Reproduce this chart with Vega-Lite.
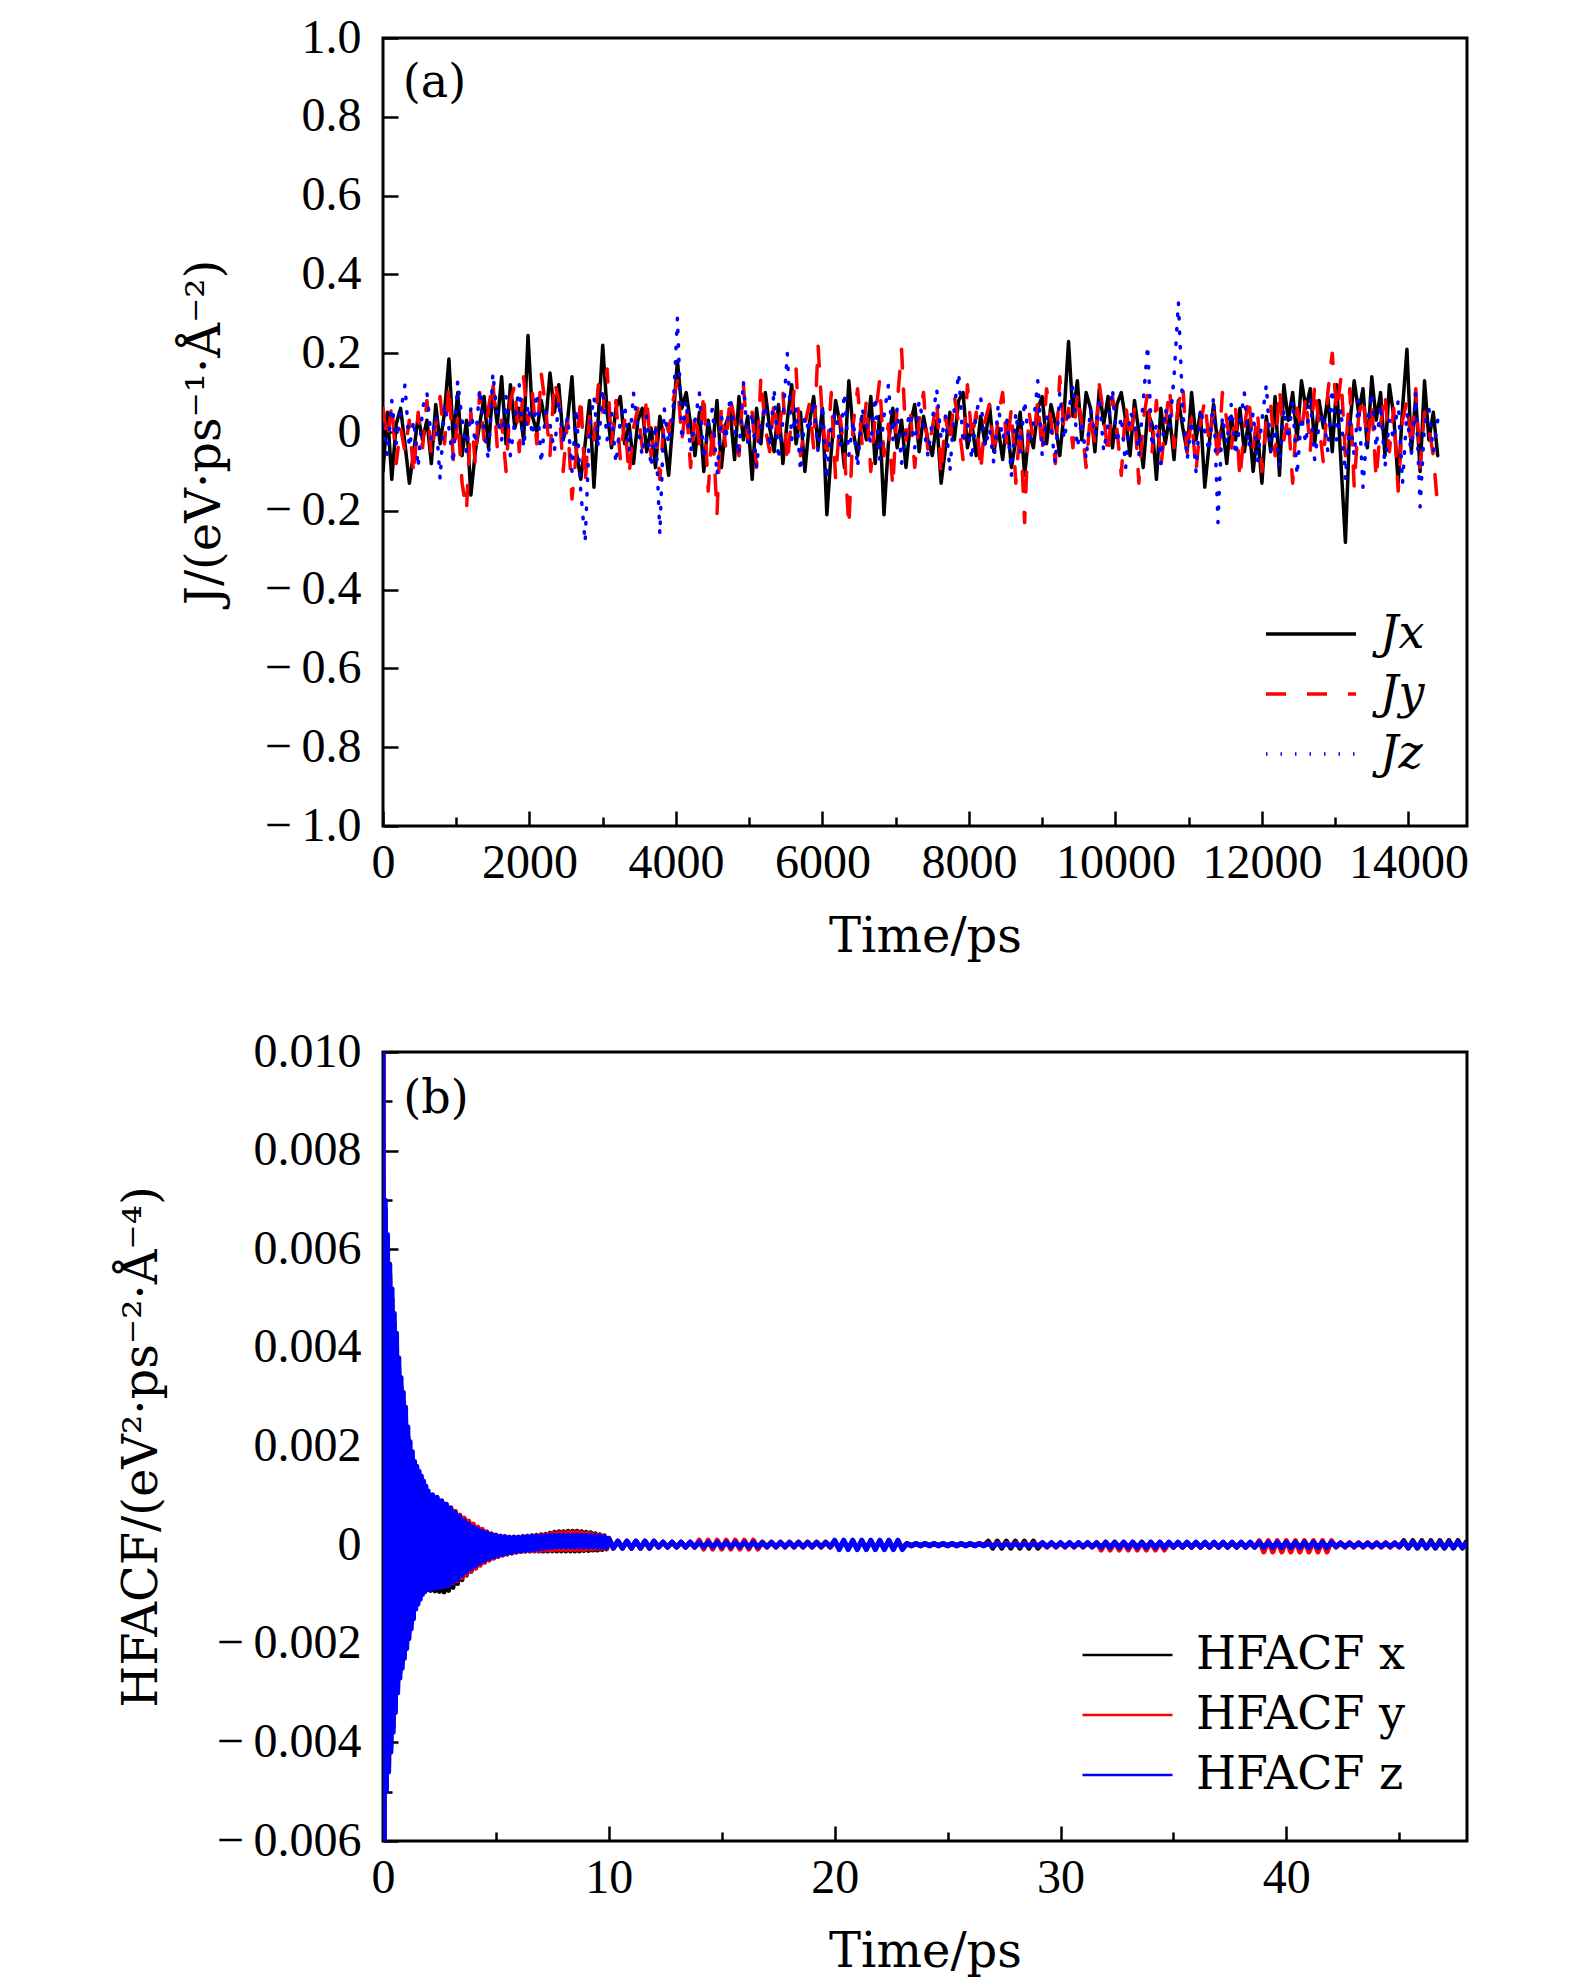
{
  "$schema": "https://vega.github.io/schema/vega-lite/v6.json",
  "background": "white",
  "padding": {"left": 116, "top": 12, "right": 5, "bottom": 5},
  "bounds": "flush",
  "spacing": 226,
  "datasets": {
    "flux": [
      {"t":0,"x":-0.10,"y":0.06,"z":0.02},{"t":60,"x":0.05,"y":-0.02,"z":-0.06},{"t":120,"x":-0.12,"y":0.07,"z":0.08},{"t":180,"x":0.02,"y":-0.08,"z":-0.03},{"t":240,"x":0.06,"y":0.01,"z":0.05},
      {"t":300,"x":-0.03,"y":-0.05,"z":0.12},{"t":360,"x":-0.13,"y":0.03,"z":-0.04},{"t":420,"x":-0.05,"y":-0.11,"z":0.03},{"t":480,"x":0.04,"y":0.05,"z":-0.09},{"t":540,"x":-0.02,"y":-0.04,"z":0.06},
      {"t":600,"x":0.03,"y":0.08,"z":0.10},{"t":660,"x":-0.08,"y":-0.06,"z":-0.02},{"t":720,"x":0.07,"y":0.02,"z":0.04},{"t":780,"x":-0.03,"y":0.09,"z":-0.12},{"t":840,"x":0.05,"y":-0.03,"z":0.07},
      {"t":900,"x":0.185,"y":0.12,"z":0.01},{"t":960,"x":-0.02,"y":-0.07,"z":-0.08},{"t":1020,"x":0.10,"y":0.04,"z":0.13},{"t":1080,"x":-0.06,"y":-0.13,"z":0.03},{"t":1140,"x":0.03,"y":-0.20,"z":-0.05},
      {"t":1200,"x":-0.16,"y":0.05,"z":0.06},{"t":1260,"x":-0.05,"y":-0.08,"z":-0.03},{"t":1320,"x":0.02,"y":0.10,"z":0.11},{"t":1380,"x":0.09,"y":-0.02,"z":0.00},{"t":1440,"x":-0.04,"y":0.06,"z":-0.07},
      {"t":1500,"x":0.11,"y":0.13,"z":0.15},{"t":1560,"x":0.02,"y":-0.04,"z":0.04},{"t":1620,"x":0.14,"y":0.03,"z":-0.02},{"t":1680,"x":-0.03,"y":-0.10,"z":0.09},{"t":1740,"x":0.12,"y":0.08,"z":-0.06},
      {"t":1800,"x":0.01,"y":0.12,"z":0.03},{"t":1860,"x":0.06,"y":-0.05,"z":0.12},{"t":1920,"x":-0.02,"y":0.14,"z":-0.04},{"t":1980,"x":0.245,"y":0.02,"z":0.07},{"t":2040,"x":0.04,"y":0.10,"z":-0.01},
      {"t":2100,"x":0.00,"y":-0.03,"z":0.10},{"t":2160,"x":0.08,"y":0.15,"z":-0.08},{"t":2220,"x":0.02,"y":0.06,"z":0.05},{"t":2280,"x":0.15,"y":-0.06,"z":0.02},{"t":2340,"x":0.05,"y":0.13,"z":-0.05},
      {"t":2400,"x":0.12,"y":0.08,"z":0.08},{"t":2460,"x":-0.02,"y":-0.10,"z":-0.03},{"t":2520,"x":0.03,"y":0.03,"z":0.04},{"t":2580,"x":0.14,"y":-0.17,"z":-0.10},{"t":2640,"x":-0.05,"y":-0.05,"z":0.06},
      {"t":2700,"x":-0.12,"y":0.09,"z":-0.15},{"t":2760,"x":-0.03,"y":-0.13,"z":-0.28},{"t":2820,"x":0.08,"y":0.04,"z":0.01},{"t":2880,"x":-0.14,"y":-0.02,"z":0.09},{"t":2940,"x":0.04,"y":0.12,"z":-0.04},
      {"t":3000,"x":0.22,"y":0.05,"z":0.11},{"t":3060,"x":0.05,"y":0.16,"z":-0.02},{"t":3120,"x":-0.04,"y":-0.03,"z":0.05},{"t":3180,"x":0.06,"y":0.08,"z":-0.08},{"t":3240,"x":0.09,"y":-0.07,"z":0.03},
      {"t":3300,"x":-0.03,"y":0.03,"z":0.07},{"t":3360,"x":0.02,"y":-0.11,"z":-0.05},{"t":3420,"x":-0.08,"y":0.01,"z":0.10},{"t":3480,"x":0.03,"y":0.06,"z":0.01},{"t":3540,"x":0.06,"y":-0.04,"z":-0.06},
      {"t":3600,"x":-0.05,"y":0.09,"z":0.04},{"t":3660,"x":0.01,"y":-0.06,"z":-0.09},{"t":3720,"x":-0.09,"y":0.02,"z":0.02},{"t":3780,"x":0.04,"y":-0.12,"z":-0.26},{"t":3840,"x":-0.02,"y":0.04,"z":0.06},
      {"t":3900,"x":-0.11,"y":0.00,"z":-0.03},{"t":3960,"x":0.03,"y":0.08,"z":0.05},{"t":4020,"x":0.18,"y":0.13,"z":0.29},{"t":4080,"x":0.06,"y":-0.02,"z":-0.02},{"t":4140,"x":0.10,"y":0.07,"z":0.08},
      {"t":4200,"x":0.02,"y":-0.09,"z":-0.05},{"t":4260,"x":-0.06,"y":0.05,"z":0.03},{"t":4320,"x":0.05,"y":-0.03,"z":0.10},{"t":4380,"x":-0.10,"y":0.10,"z":-0.07},{"t":4440,"x":0.03,"y":-0.15,"z":0.02},
      {"t":4500,"x":-0.04,"y":0.02,"z":0.06},{"t":4560,"x":0.08,"y":-0.21,"z":-0.11},{"t":4620,"x":-0.09,"y":0.06,"z":0.04},{"t":4680,"x":0.02,"y":-0.04,"z":-0.02},{"t":4740,"x":0.05,"y":0.09,"z":0.09},
      {"t":4800,"x":-0.07,"y":0.03,"z":0.01},{"t":4860,"x":0.09,"y":-0.06,"z":-0.06},{"t":4920,"x":-0.02,"y":0.12,"z":0.13},{"t":4980,"x":0.04,"y":-0.02,"z":-0.03},{"t":5040,"x":-0.12,"y":0.05,"z":0.05},
      {"t":5100,"x":0.06,"y":-0.09,"z":-0.09},{"t":5160,"x":-0.03,"y":0.14,"z":0.02},{"t":5220,"x":0.10,"y":0.01,"z":0.07},{"t":5280,"x":0.01,"y":-0.05,"z":-0.04},{"t":5340,"x":-0.05,"y":0.08,"z":0.11},
      {"t":5400,"x":0.07,"y":-0.03,"z":-0.07},{"t":5460,"x":-0.08,"y":0.10,"z":0.03},{"t":5520,"x":0.03,"y":-0.08,"z":0.20},{"t":5580,"x":0.12,"y":0.04,"z":-0.02},{"t":5640,"x":-0.03,"y":0.16,"z":0.06},
      {"t":5700,"x":0.05,"y":-0.06,"z":-0.10},{"t":5760,"x":-0.10,"y":0.02,"z":0.04},{"t":5820,"x":0.02,"y":0.07,"z":0.00},{"t":5880,"x":0.09,"y":-0.04,"z":0.08},{"t":5940,"x":-0.04,"y":0.22,"z":-0.05},
      {"t":6000,"x":0.06,"y":0.03,"z":0.07},{"t":6060,"x":-0.21,"y":-0.07,"z":-0.12},{"t":6120,"x":-0.05,"y":0.10,"z":0.02},{"t":6180,"x":0.08,"y":-0.12,"z":0.05},{"t":6240,"x":0.02,"y":0.04,"z":-0.04},
      {"t":6300,"x":-0.09,"y":-0.05,"z":0.10},{"t":6360,"x":0.13,"y":-0.24,"z":-0.06},{"t":6420,"x":0.00,"y":0.02,"z":0.03},{"t":6480,"x":-0.06,"y":0.11,"z":-0.09},{"t":6540,"x":0.04,"y":-0.03,"z":0.06},
      {"t":6600,"x":-0.02,"y":0.08,"z":0.02},{"t":6660,"x":0.09,"y":-0.10,"z":-0.03},{"t":6720,"x":-0.08,"y":0.04,"z":0.09},{"t":6780,"x":0.04,"y":0.13,"z":-0.07},{"t":6840,"x":-0.21,"y":-0.06,"z":0.04},
      {"t":6900,"x":-0.03,"y":0.02,"z":0.12},{"t":6960,"x":0.06,"y":-0.14,"z":-0.02},{"t":7020,"x":-0.04,"y":0.07,"z":0.06},{"t":7080,"x":0.03,"y":0.21,"z":-0.08},{"t":7140,"x":-0.09,"y":-0.02,"z":0.01},
      {"t":7200,"x":0.02,"y":0.05,"z":0.05},{"t":7260,"x":0.07,"y":-0.09,"z":-0.04},{"t":7320,"x":-0.05,"y":0.03,"z":0.08},{"t":7380,"x":0.04,"y":0.10,"z":0.02},{"t":7440,"x":-0.02,"y":-0.05,"z":-0.06},
      {"t":7500,"x":-0.06,"y":0.01,"z":0.03},{"t":7560,"x":0.03,"y":0.08,"z":0.11},{"t":7620,"x":-0.13,"y":-0.11,"z":-0.02},{"t":7680,"x":-0.04,"y":0.04,"z":0.04},{"t":7740,"x":0.05,"y":-0.03,"z":-0.10},
      {"t":7800,"x":-0.02,"y":0.09,"z":0.06},{"t":7860,"x":0.08,"y":0.02,"z":0.15},{"t":7920,"x":0.10,"y":-0.07,"z":-0.03},{"t":7980,"x":-0.04,"y":0.12,"z":0.02},{"t":8040,"x":0.02,"y":-0.02,"z":-0.07},
      {"t":8100,"x":-0.06,"y":0.05,"z":0.05},{"t":8160,"x":0.04,"y":-0.10,"z":0.09},{"t":8220,"x":-0.03,"y":0.03,"z":-0.04},{"t":8280,"x":0.07,"y":0.07,"z":0.01},{"t":8340,"x":-0.05,"y":-0.06,"z":-0.08},
      {"t":8400,"x":0.01,"y":0.04,"z":0.07},{"t":8460,"x":-0.07,"y":0.10,"z":-0.02},{"t":8520,"x":0.03,"y":-0.04,"z":0.03},{"t":8580,"x":-0.09,"y":0.06,"z":-0.11},{"t":8640,"x":-0.02,"y":-0.13,"z":0.05},
      {"t":8700,"x":0.05,"y":0.02,"z":-0.05},{"t":8760,"x":-0.11,"y":-0.23,"z":0.08},{"t":8820,"x":0.00,"y":0.05,"z":-0.03},{"t":8880,"x":-0.04,"y":-0.02,"z":0.02},{"t":8940,"x":0.06,"y":0.08,"z":0.13},
      {"t":9000,"x":0.09,"y":-0.05,"z":-0.06},{"t":9060,"x":-0.03,"y":0.11,"z":0.04},{"t":9120,"x":0.07,"y":0.03,"z":0.01},{"t":9180,"x":0.02,"y":-0.08,"z":-0.08},{"t":9240,"x":-0.06,"y":0.14,"z":0.10},
      {"t":9300,"x":0.05,"y":0.00,"z":-0.02},{"t":9360,"x":0.23,"y":0.06,"z":0.05},{"t":9420,"x":0.04,"y":-0.04,"z":0.12},{"t":9480,"x":0.13,"y":0.10,"z":-0.04},{"t":9540,"x":-0.02,"y":0.02,"z":0.03},
      {"t":9600,"x":0.10,"y":-0.09,"z":-0.07},{"t":9660,"x":0.06,"y":0.05,"z":0.06},{"t":9720,"x":-0.05,"y":-0.03,"z":-0.01},{"t":9780,"x":0.11,"y":0.12,"z":0.09},{"t":9840,"x":0.02,"y":0.04,"z":-0.05},
      {"t":9900,"x":0.09,"y":-0.06,"z":0.02},{"t":9960,"x":-0.04,"y":0.09,"z":0.11},{"t":10020,"x":0.07,"y":0.01,"z":-0.03},{"t":10080,"x":0.10,"y":-0.11,"z":0.04},{"t":10140,"x":0.03,"y":0.07,"z":-0.09},
      {"t":10200,"x":-0.06,"y":-0.02,"z":0.05},{"t":10260,"x":0.08,"y":0.06,"z":0.03},{"t":10320,"x":0.00,"y":-0.13,"z":-0.06},{"t":10380,"x":-0.09,"y":0.03,"z":0.08},{"t":10440,"x":0.05,"y":0.10,"z":0.22},
      {"t":10500,"x":0.02,"y":-0.05,"z":-0.04},{"t":10560,"x":-0.12,"y":0.08,"z":0.02},{"t":10620,"x":0.06,"y":-0.09,"z":-0.08},{"t":10680,"x":-0.03,"y":0.02,"z":0.06},{"t":10740,"x":0.04,"y":0.11,"z":0.01},
      {"t":10800,"x":-0.07,"y":-0.04,"z":0.14},{"t":10860,"x":0.08,"y":0.07,"z":0.33},{"t":10920,"x":0.01,"y":0.12,"z":0.05},{"t":10980,"x":-0.05,"y":-0.06,"z":-0.07},{"t":11040,"x":0.10,"y":0.04,"z":0.03},
      {"t":11100,"x":-0.02,"y":-0.10,"z":-0.10},{"t":11160,"x":0.05,"y":0.02,"z":0.06},{"t":11220,"x":-0.14,"y":0.08,"z":0.00},{"t":11280,"x":-0.03,"y":-0.03,"z":-0.05},{"t":11340,"x":0.07,"y":0.05,"z":0.09},
      {"t":11400,"x":-0.04,"y":-0.08,"z":-0.23},{"t":11460,"x":0.02,"y":0.10,"z":0.04},{"t":11520,"x":-0.08,"y":0.03,"z":-0.03},{"t":11580,"x":0.04,"y":-0.05,"z":0.07},{"t":11640,"x":-0.02,"y":0.06,"z":-0.06},
      {"t":11700,"x":0.06,"y":-0.12,"z":0.02},{"t":11760,"x":-0.05,"y":0.01,"z":0.10},{"t":11820,"x":0.03,"y":0.09,"z":-0.04},{"t":11880,"x":-0.10,"y":-0.04,"z":0.05},{"t":11940,"x":0.00,"y":0.05,"z":-0.08},
      {"t":12000,"x":-0.13,"y":-0.10,"z":0.03},{"t":12060,"x":0.04,"y":0.03,"z":0.12},{"t":12120,"x":-0.05,"y":0.07,"z":-0.05},{"t":12180,"x":0.09,"y":-0.06,"z":0.01},{"t":12240,"x":-0.11,"y":0.11,"z":-0.09},
      {"t":12300,"x":0.12,"y":-0.02,"z":0.06},{"t":12360,"x":0.03,"y":0.04,"z":-0.02},{"t":12420,"x":0.10,"y":-0.13,"z":0.08},{"t":12480,"x":-0.02,"y":0.06,"z":-0.11},{"t":12540,"x":0.13,"y":0.00,"z":0.04},
      {"t":12600,"x":0.06,"y":0.09,"z":-0.03},{"t":12660,"x":0.11,"y":-0.05,"z":0.09},{"t":12720,"x":-0.03,"y":0.12,"z":-0.07},{"t":12780,"x":0.08,"y":0.02,"z":0.02},{"t":12840,"x":0.01,"y":-0.08,"z":0.05},
      {"t":12900,"x":0.09,"y":0.10,"z":-0.05},{"t":12960,"x":-0.05,"y":0.20,"z":0.11},{"t":13020,"x":0.12,"y":0.05,"z":-0.02},{"t":13080,"x":-0.08,"y":0.14,"z":0.06},{"t":13140,"x":-0.28,"y":-0.06,"z":-0.12},
      {"t":13200,"x":0.02,"y":0.11,"z":0.04},{"t":13260,"x":0.13,"y":-0.14,"z":-0.06},{"t":13320,"x":0.05,"y":0.04,"z":0.08},{"t":13380,"x":0.11,"y":0.09,"z":-0.14},{"t":13440,"x":-0.04,"y":-0.03,"z":0.02},
      {"t":13500,"x":0.14,"y":0.07,"z":0.10},{"t":13560,"x":0.03,"y":-0.12,"z":-0.04},{"t":13620,"x":0.10,"y":0.02,"z":0.07},{"t":13680,"x":-0.06,"y":0.10,"z":-0.09},{"t":13740,"x":0.12,"y":-0.05,"z":0.03},
      {"t":13800,"x":0.04,"y":0.06,"z":-0.02},{"t":13860,"x":-0.13,"y":-0.15,"z":0.08},{"t":13920,"x":0.06,"y":0.03,"z":-0.13},{"t":13980,"x":0.21,"y":0.08,"z":0.05},{"t":14040,"x":-0.05,"y":-0.04,"z":-0.06},
      {"t":14100,"x":0.09,"y":0.11,"z":0.10},{"t":14160,"x":-0.10,"y":-0.09,"z":-0.19},{"t":14220,"x":0.13,"y":0.05,"z":0.02},{"t":14280,"x":-0.02,"y":0.01,"z":0.06},{"t":14340,"x":0.05,"y":-0.06,"z":-0.05},
      {"t":14400,"x":-0.06,"y":-0.19,"z":0.03}
    ],
    "acf": [
      {"t":0.00,"x":0.0102,"y":0.0100,"z":0.0105},{"t":0.05,"x":-0.0063,"y":-0.0062,"z":-0.0065},{"t":0.10,"x":0.0068,"y":0.0067,"z":0.0070},{"t":0.15,"x":-0.0049,"y":-0.0048,"z":-0.0050},
      {"t":0.20,"x":0.0061,"y":0.0060,"z":0.0063},{"t":0.25,"x":-0.0045,"y":-0.0044,"z":-0.0046},{"t":0.30,"x":0.0055,"y":0.0054,"z":0.0057},{"t":0.35,"x":-0.0041,"y":-0.0040,"z":-0.0042},
      {"t":0.40,"x":0.0050,"y":0.0049,"z":0.0052},{"t":0.45,"x":-0.0037,"y":-0.0036,"z":-0.0038},{"t":0.50,"x":0.0045,"y":0.0044,"z":0.0047},{"t":0.55,"x":-0.0033,"y":-0.0032,"z":-0.0034},
      {"t":0.60,"x":0.0041,"y":0.0040,"z":0.0043},{"t":0.65,"x":-0.0029,"y":-0.0028,"z":-0.0030},{"t":0.70,"x":0.0036,"y":0.0035,"z":0.0038},{"t":0.75,"x":-0.0026,"y":-0.0025,"z":-0.0027},
      {"t":0.80,"x":0.0032,"y":0.0031,"z":0.0034},{"t":0.85,"x":-0.0024,"y":-0.0023,"z":-0.0025},{"t":0.90,"x":0.0029,"y":0.0028,"z":0.0031},{"t":0.95,"x":-0.0022,"y":-0.0021,"z":-0.0023},
      {"t":1.00,"x":0.0026,"y":0.0025,"z":0.0028},{"t":1.05,"x":-0.0020,"y":-0.0019,"z":-0.0021},{"t":1.10,"x":0.0022,"y":0.0022,"z":0.0024},{"t":1.15,"x":-0.0018,"y":-0.0017,"z":-0.0019},
      {"t":1.20,"x":0.0019,"y":0.0019,"z":0.0021},{"t":1.25,"x":-0.0016,"y":-0.0015,"z":-0.0017},{"t":1.30,"x":0.0017,"y":0.0017,"z":0.0019},{"t":1.35,"x":-0.0014,"y":-0.0013,"z":-0.0015},
      {"t":1.40,"x":0.0015,"y":0.0015,"z":0.0017},{"t":1.45,"x":-0.0012,"y":-0.0012,"z":-0.0013},{"t":1.50,"x":0.0014,"y":0.0014,"z":0.0016},{"t":1.55,"x":-0.0011,"y":-0.0011,"z":-0.0012},
      {"t":1.60,"x":0.0013,"y":0.0013,"z":0.0015},{"t":1.65,"x":-0.0010,"y":-0.0010,"z":-0.0011},{"t":1.70,"x":0.0012,"y":0.0012,"z":0.0014},{"t":1.75,"x":-0.00095,"y":-0.00093,"z":-0.0010},
      {"t":1.80,"x":0.0011,"y":0.0011,"z":0.0013},{"t":1.85,"x":-0.00092,"y":-0.0009,"z":-0.00095},{"t":1.90,"x":0.00105,"y":0.00105,"z":0.0012},{"t":1.95,"x":-0.0009,"y":-0.00088,"z":-0.0009},
      {"t":2.0,"x":0.001,"y":0.001,"z":0.0011},{"t":2.1,"x":-0.00092,"y":-0.00088,"z":-0.0009},{"t":2.2,"x":0.00098,"y":0.00097,"z":0.00102},{"t":2.3,"x":-0.00093,"y":-0.00086,"z":-0.00088},
      {"t":2.4,"x":0.00094,"y":0.00093,"z":0.00097},{"t":2.5,"x":-0.00094,"y":-0.00085,"z":-0.00086},{"t":2.6,"x":0.00089,"y":0.00088,"z":0.0009},{"t":2.7,"x":-0.00095,"y":-0.00084,"z":-0.00084},
      {"t":2.8,"x":0.00083,"y":0.00082,"z":0.00083},{"t":2.9,"x":-0.00092,"y":-0.00082,"z":-0.00082},{"t":3.0,"x":0.00076,"y":0.00075,"z":0.00075},{"t":3.1,"x":-0.00086,"y":-0.00077,"z":-0.00076},
      {"t":3.2,"x":0.00068,"y":0.00068,"z":0.00066},{"t":3.3,"x":-0.00078,"y":-0.00072,"z":-0.0007},{"t":3.4,"x":0.0006,"y":0.00061,"z":0.00058},{"t":3.5,"x":-0.0007,"y":-0.00066,"z":-0.00062},
      {"t":3.6,"x":0.00052,"y":0.00055,"z":0.0005},{"t":3.7,"x":-0.00061,"y":-0.0006,"z":-0.00055},{"t":3.8,"x":0.00045,"y":0.00049,"z":0.00043},{"t":3.9,"x":-0.00053,"y":-0.00053,"z":-0.00048},
      {"t":4.0,"x":0.00039,"y":0.00043,"z":0.00037},{"t":4.1,"x":-0.00046,"y":-0.00047,"z":-0.00042},{"t":4.2,"x":0.00033,"y":0.00037,"z":0.00032},{"t":4.3,"x":-0.0004,"y":-0.00041,"z":-0.00036},
      {"t":4.4,"x":0.00029,"y":0.00032,"z":0.00028},{"t":4.5,"x":-0.00034,"y":-0.00035,"z":-0.00031},{"t":4.6,"x":0.00025,"y":0.00027,"z":0.00025},{"t":4.7,"x":-0.0003,"y":-0.0003,"z":-0.00027},
      {"t":4.8,"x":0.00022,"y":0.00023,"z":0.00022},{"t":4.9,"x":-0.00026,"y":-0.00026,"z":-0.00024},{"t":5.0,"x":0.0002,"y":0.0002,"z":0.0002},{"t":5.1,"x":-0.00023,"y":-0.00023,"z":-0.00021},
      {"t":5.2,"x":0.00018,"y":0.00018,"z":0.00018},{"t":5.3,"x":-0.0002,"y":-0.0002,"z":-0.00019},{"t":5.4,"x":0.00017,"y":0.00017,"z":0.00017},{"t":5.5,"x":-0.00018,"y":-0.00018,"z":-0.00017},
      {"t":5.6,"x":0.00016,"y":0.00016,"z":0.00016},{"t":5.7,"x":-0.00016,"y":-0.00016,"z":-0.00015},{"t":5.8,"x":0.00016,"y":0.00016,"z":0.00016},{"t":5.9,"x":-0.00014,"y":-0.00014,"z":-0.00013},
      {"t":6.0,"x":0.00016,"y":0.00016,"z":0.00016},{"t":6.1,"x":-0.00013,"y":-0.00013,"z":-0.00012},{"t":6.2,"x":0.00017,"y":0.00017,"z":0.00017},{"t":6.3,"x":-0.00012,"y":-0.00012,"z":-0.00011},
      {"t":6.4,"x":0.00018,"y":0.00018,"z":0.00017},{"t":6.5,"x":-0.00012,"y":-0.00011,"z":-0.0001},{"t":6.6,"x":0.00019,"y":0.00018,"z":0.00018},{"t":6.7,"x":-0.00012,"y":-0.00011,"z":-0.00009},
      {"t":6.8,"x":0.0002,"y":0.00019,"z":0.00018},{"t":6.9,"x":-0.00012,"y":-0.00011,"z":-0.00008},{"t":7.0,"x":0.00021,"y":0.0002,"z":0.00018},{"t":7.1,"x":-0.00012,"y":-0.0001,"z":-0.00007},
      {"t":7.2,"x":0.00022,"y":0.00021,"z":0.00019},{"t":7.3,"x":-0.00012,"y":-0.0001,"z":-0.00006},{"t":7.4,"x":0.00024,"y":0.00022,"z":0.00019},{"t":7.5,"x":-0.00012,"y":-0.0001,"z":-0.00005},
      {"t":7.6,"x":0.00026,"y":0.00024,"z":0.0002},{"t":7.7,"x":-0.00012,"y":-0.00009,"z":-0.00004},{"t":7.8,"x":0.00027,"y":0.00025,"z":0.0002},{"t":7.9,"x":-0.00012,"y":-0.00009,"z":-0.00004},
      {"t":8.0,"x":0.00027,"y":0.00025,"z":0.0002},{"t":8.1,"x":-0.00012,"y":-0.00009,"z":-0.00004},{"t":8.2,"x":0.00028,"y":0.00026,"z":0.0002},{"t":8.3,"x":-0.00012,"y":-0.00009,"z":-0.00004},
      {"t":8.4,"x":0.00028,"y":0.00026,"z":0.0002},{"t":8.5,"x":-0.00012,"y":-0.00009,"z":-0.00004},{"t":8.6,"x":0.00028,"y":0.00026,"z":0.0002},{"t":8.7,"x":-0.00012,"y":-0.00009,"z":-0.00004},
      {"t":8.8,"x":0.00027,"y":0.00025,"z":0.0002},{"t":8.9,"x":-0.00011,"y":-0.00009,"z":-0.00004},{"t":9.0,"x":0.00026,"y":0.00024,"z":0.0002},{"t":9.1,"x":-0.00011,"y":-0.00008,"z":-0.00004},
      {"t":9.2,"x":0.00025,"y":0.00023,"z":0.00019},{"t":9.3,"x":-0.0001,"y":-0.00008,"z":-0.00004},{"t":9.4,"x":0.00023,"y":0.00021,"z":0.00019},{"t":9.5,"x":-0.0001,"y":-0.00007,"z":-0.00004},
      {"t":9.6,"x":0.00021,"y":0.0002,"z":0.00018},{"t":9.7,"x":-0.00009,"y":-0.00007,"z":-0.00005},{"t":9.8,"x":0.00019,"y":0.00018,"z":0.00017},{"t":9.9,"x":-0.00008,"y":-0.00007,"z":-0.00005},
      {"t":10.0,"x":0.00014,"y":0.00013,"z":0.00013},
      {"t":10.2,"x":-0.00006,"y":-0.00006,"z":-0.00006},{"t":10.4,"x":0.00008,"y":0.00007,"z":0.00008},{"t":10.6,"x":-0.00006,"y":-0.00006,"z":-0.00006},{"t":10.8,"x":0.00008,"y":0.00007,"z":0.00008},{"t":11.0,"x":-0.00006,"y":-0.00006,"z":-0.00006},
      {"t":11.2,"x":0.00008,"y":0.00007,"z":0.00008},{"t":11.4,"x":-0.00006,"y":-0.00006,"z":-0.00006},{"t":11.6,"x":0.00008,"y":0.00007,"z":0.00008},{"t":11.8,"x":-0.00006,"y":-0.00006,"z":-0.00006},{"t":12.0,"x":0.00008,"y":0.00007,"z":0.00008},
      {"t":12.2,"x":-0.00004,"y":-0.00004,"z":-0.00004},{"t":12.4,"x":0.00006,"y":0.00006,"z":0.00006},{"t":12.6,"x":-0.00004,"y":-0.00004,"z":-0.00004},{"t":12.8,"x":0.00006,"y":0.00006,"z":0.00006},{"t":13.0,"x":-0.00004,"y":-0.00004,"z":-0.00004},
      {"t":13.2,"x":0.00006,"y":0.00006,"z":0.00006},{"t":13.4,"x":-0.00004,"y":-0.00004,"z":-0.00004},{"t":13.6,"x":0.00006,"y":0.00006,"z":0.00006},{"t":13.8,"x":-0.00004,"y":-0.00004,"z":-0.00004},
      {"t":14.0,"x":0.00006,"y":0.0001,"z":0.00006},{"t":14.2,"x":-0.00004,"y":-0.00008,"z":-0.00004},{"t":14.4,"x":0.00006,"y":0.0001,"z":0.00006},{"t":14.6,"x":-0.00004,"y":-0.00008,"z":-0.00004},{"t":14.8,"x":0.00006,"y":0.0001,"z":0.00006},
      {"t":15.0,"x":-0.00004,"y":-0.00008,"z":-0.00004},{"t":15.2,"x":0.00006,"y":0.0001,"z":0.00006},{"t":15.4,"x":-0.00004,"y":-0.00008,"z":-0.00004},{"t":15.6,"x":0.00006,"y":0.0001,"z":0.00006},{"t":15.8,"x":-0.00004,"y":-0.00008,"z":-0.00004},
      {"t":16.0,"x":0.00006,"y":0.0001,"z":0.00006},{"t":16.2,"x":-0.00004,"y":-0.00008,"z":-0.00004},{"t":16.4,"x":0.00006,"y":0.0001,"z":0.00006},{"t":16.6,"x":-0.00004,"y":-0.00008,"z":-0.00004},
      {"t":16.8,"x":0.00006,"y":0.00006,"z":0.00005},{"t":17.0,"x":-0.00004,"y":-0.00004,"z":-0.00003},{"t":17.2,"x":0.00006,"y":0.00006,"z":0.00005},{"t":17.4,"x":-0.00004,"y":-0.00004,"z":-0.00003},{"t":17.6,"x":0.00006,"y":0.00006,"z":0.00005},
      {"t":17.8,"x":-0.00004,"y":-0.00004,"z":-0.00003},{"t":18.0,"x":0.00006,"y":0.00006,"z":0.00005},{"t":18.2,"x":-0.00004,"y":-0.00004,"z":-0.00003},{"t":18.4,"x":0.00006,"y":0.00006,"z":0.00005},{"t":18.6,"x":-0.00004,"y":-0.00004,"z":-0.00003},
      {"t":18.8,"x":0.00006,"y":0.00006,"z":0.00005},{"t":19.0,"x":-0.00004,"y":-0.00004,"z":-0.00003},{"t":19.2,"x":0.00006,"y":0.00006,"z":0.00005},{"t":19.4,"x":-0.00004,"y":-0.00004,"z":-0.00003},{"t":19.6,"x":0.00006,"y":0.00006,"z":0.00005},
      {"t":19.8,"x":-0.00004,"y":-0.00004,"z":-0.00003},
      {"t":20.0,"x":0.00007,"y":0.00007,"z":0.0001},{"t":20.2,"x":-0.00006,"y":-0.00006,"z":-0.00009},{"t":20.4,"x":0.00007,"y":0.00007,"z":0.0001},{"t":20.6,"x":-0.00006,"y":-0.00006,"z":-0.00009},{"t":20.8,"x":0.00007,"y":0.00007,"z":0.0001},
      {"t":21.0,"x":-0.00006,"y":-0.00006,"z":-0.00009},{"t":21.2,"x":0.00007,"y":0.00007,"z":0.0001},{"t":21.4,"x":-0.00006,"y":-0.00006,"z":-0.00009},{"t":21.6,"x":0.00007,"y":0.00007,"z":0.0001},{"t":21.8,"x":-0.00006,"y":-0.00006,"z":-0.00009},
      {"t":22.0,"x":0.00007,"y":0.00007,"z":0.0001},{"t":22.2,"x":-0.00006,"y":-0.00006,"z":-0.00009},{"t":22.4,"x":0.00007,"y":0.00007,"z":0.0001},{"t":22.6,"x":-0.00006,"y":-0.00006,"z":-0.00009},{"t":22.8,"x":0.00007,"y":0.00007,"z":0.0001},
      {"t":23.0,"x":-0.00006,"y":-0.00006,"z":-0.00009},
      {"t":23.2,"x":0.00003,"y":0.00003,"z":0.00003},{"t":23.4,"x":-0.00001,"y":-0.00001,"z":-0.00001},{"t":23.6,"x":0.00003,"y":0.00003,"z":0.00003},{"t":23.8,"x":-0.00001,"y":-0.00001,"z":-0.00001},{"t":24.0,"x":0.00003,"y":0.00003,"z":0.00003},
      {"t":24.2,"x":-0.00001,"y":-0.00001,"z":-0.00001},{"t":24.4,"x":0.00003,"y":0.00003,"z":0.00003},{"t":24.6,"x":-0.00001,"y":-0.00001,"z":-0.00001},{"t":24.8,"x":0.00003,"y":0.00003,"z":0.00003},{"t":25.0,"x":-0.00001,"y":-0.00001,"z":-0.00001},
      {"t":25.2,"x":0.00003,"y":0.00003,"z":0.00003},{"t":25.4,"x":-0.00001,"y":-0.00001,"z":-0.00001},{"t":25.6,"x":0.00003,"y":0.00003,"z":0.00003},{"t":25.8,"x":-0.00001,"y":-0.00001,"z":-0.00001},{"t":26.0,"x":0.00003,"y":0.00003,"z":0.00003},
      {"t":26.2,"x":-0.00001,"y":-0.00001,"z":-0.00001},{"t":26.4,"x":0.00003,"y":0.00003,"z":0.00003},{"t":26.6,"x":-0.00001,"y":-0.00001,"z":-0.00001},
      {"t":26.8,"x":0.00008,"y":0.00004,"z":0.00003},{"t":27.0,"x":-0.00006,"y":-0.00002,"z":-0.00002},{"t":27.2,"x":0.00008,"y":0.00004,"z":0.00003},{"t":27.4,"x":-0.00006,"y":-0.00002,"z":-0.00002},{"t":27.6,"x":0.00008,"y":0.00004,"z":0.00003},
      {"t":27.8,"x":-0.00006,"y":-0.00002,"z":-0.00002},{"t":28.0,"x":0.00008,"y":0.00004,"z":0.00003},{"t":28.2,"x":-0.00006,"y":-0.00002,"z":-0.00002},{"t":28.4,"x":0.00008,"y":0.00004,"z":0.00003},{"t":28.6,"x":-0.00006,"y":-0.00002,"z":-0.00002},
      {"t":28.8,"x":0.00008,"y":0.00004,"z":0.00003},{"t":29.0,"x":-0.00006,"y":-0.00002,"z":-0.00002},
      {"t":29.2,"x":0.00004,"y":0.00005,"z":0.00005},{"t":29.4,"x":-0.00003,"y":-0.00004,"z":-0.00003},{"t":29.6,"x":0.00004,"y":0.00005,"z":0.00005},{"t":29.8,"x":-0.00003,"y":-0.00004,"z":-0.00003},{"t":30.0,"x":0.00004,"y":0.00005,"z":0.00005},
      {"t":30.2,"x":-0.00003,"y":-0.00004,"z":-0.00003},{"t":30.4,"x":0.00004,"y":0.00005,"z":0.00005},{"t":30.6,"x":-0.00003,"y":-0.00004,"z":-0.00003},{"t":30.8,"x":0.00004,"y":0.00005,"z":0.00005},{"t":31.0,"x":-0.00003,"y":-0.00004,"z":-0.00003},
      {"t":31.2,"x":0.00004,"y":0.00005,"z":0.00005},{"t":31.4,"x":-0.00003,"y":-0.00004,"z":-0.00003},{"t":31.6,"x":0.00004,"y":0.00005,"z":0.00005},
      {"t":31.8,"x":-0.00004,"y":-0.0001,"z":-0.00005},{"t":32.0,"x":0.00005,"y":0.00006,"z":0.00006},{"t":32.2,"x":-0.00004,"y":-0.0001,"z":-0.00005},{"t":32.4,"x":0.00005,"y":0.00006,"z":0.00006},{"t":32.6,"x":-0.00004,"y":-0.0001,"z":-0.00005},
      {"t":32.8,"x":0.00005,"y":0.00006,"z":0.00006},{"t":33.0,"x":-0.00004,"y":-0.0001,"z":-0.00005},{"t":33.2,"x":0.00005,"y":0.00006,"z":0.00006},{"t":33.4,"x":-0.00004,"y":-0.0001,"z":-0.00005},{"t":33.6,"x":0.00005,"y":0.00006,"z":0.00006},
      {"t":33.8,"x":-0.00004,"y":-0.0001,"z":-0.00005},{"t":34.0,"x":0.00005,"y":0.00006,"z":0.00006},{"t":34.2,"x":-0.00004,"y":-0.0001,"z":-0.00005},{"t":34.4,"x":0.00005,"y":0.00006,"z":0.00006},{"t":34.6,"x":-0.00004,"y":-0.0001,"z":-0.00005},
      {"t":34.8,"x":0.00005,"y":0.00005,"z":0.00006},{"t":35.0,"x":-0.00004,"y":-0.00004,"z":-0.00004},{"t":35.2,"x":0.00005,"y":0.00005,"z":0.00006},{"t":35.4,"x":-0.00004,"y":-0.00004,"z":-0.00004},{"t":35.6,"x":0.00005,"y":0.00005,"z":0.00006},
      {"t":35.8,"x":-0.00004,"y":-0.00004,"z":-0.00004},{"t":36.0,"x":0.00005,"y":0.00005,"z":0.00006},{"t":36.2,"x":-0.00004,"y":-0.00004,"z":-0.00004},{"t":36.4,"x":0.00005,"y":0.00005,"z":0.00006},{"t":36.6,"x":-0.00004,"y":-0.00004,"z":-0.00004},
      {"t":36.8,"x":0.00005,"y":0.00005,"z":0.00006},{"t":37.0,"x":-0.00004,"y":-0.00004,"z":-0.00004},{"t":37.2,"x":0.00005,"y":0.00005,"z":0.00006},{"t":37.4,"x":-0.00004,"y":-0.00004,"z":-0.00004},{"t":37.6,"x":0.00005,"y":0.00005,"z":0.00006},
      {"t":37.8,"x":-0.00004,"y":-0.00004,"z":-0.00004},{"t":38.0,"x":0.00005,"y":0.00005,"z":0.00006},{"t":38.2,"x":-0.00004,"y":-0.00004,"z":-0.00004},{"t":38.4,"x":0.00005,"y":0.00005,"z":0.00006},{"t":38.6,"x":-0.00004,"y":-0.00004,"z":-0.00004},
      {"t":38.8,"x":0.00006,"y":0.00009,"z":0.00006},{"t":39.0,"x":-0.00005,"y":-0.00014,"z":-0.00005},{"t":39.2,"x":0.00006,"y":0.00009,"z":0.00006},{"t":39.4,"x":-0.00005,"y":-0.00014,"z":-0.00005},{"t":39.6,"x":0.00006,"y":0.00009,"z":0.00006},
      {"t":39.8,"x":-0.00005,"y":-0.00014,"z":-0.00005},{"t":40.0,"x":0.00006,"y":0.00009,"z":0.00006},{"t":40.2,"x":-0.00005,"y":-0.00014,"z":-0.00005},{"t":40.4,"x":0.00006,"y":0.00009,"z":0.00006},{"t":40.6,"x":-0.00005,"y":-0.00014,"z":-0.00005},
      {"t":40.8,"x":0.00006,"y":0.00009,"z":0.00006},{"t":41.0,"x":-0.00005,"y":-0.00014,"z":-0.00005},{"t":41.2,"x":0.00006,"y":0.00009,"z":0.00006},{"t":41.4,"x":-0.00005,"y":-0.00014,"z":-0.00005},{"t":41.6,"x":0.00006,"y":0.00009,"z":0.00006},
      {"t":41.8,"x":-0.00005,"y":-0.00014,"z":-0.00005},{"t":42.0,"x":0.00006,"y":0.00009,"z":0.00006},
      {"t":42.2,"x":-0.00003,"y":-0.00004,"z":-0.00003},{"t":42.4,"x":0.00004,"y":0.00005,"z":0.00004},{"t":42.6,"x":-0.00003,"y":-0.00004,"z":-0.00003},{"t":42.8,"x":0.00004,"y":0.00005,"z":0.00004},{"t":43.0,"x":-0.00003,"y":-0.00004,"z":-0.00003},
      {"t":43.2,"x":0.00004,"y":0.00005,"z":0.00004},{"t":43.4,"x":-0.00003,"y":-0.00004,"z":-0.00003},{"t":43.6,"x":0.00004,"y":0.00005,"z":0.00004},{"t":43.8,"x":-0.00003,"y":-0.00004,"z":-0.00003},{"t":44.0,"x":0.00004,"y":0.00005,"z":0.00004},
      {"t":44.2,"x":-0.00003,"y":-0.00004,"z":-0.00003},{"t":44.4,"x":0.00004,"y":0.00005,"z":0.00004},{"t":44.6,"x":-0.00003,"y":-0.00004,"z":-0.00003},{"t":44.8,"x":0.00004,"y":0.00005,"z":0.00004},{"t":45.0,"x":-0.00003,"y":-0.00004,"z":-0.00003},
      {"t":45.2,"x":0.00009,"y":0.00006,"z":0.00006},{"t":45.4,"x":-0.00006,"y":-0.00004,"z":-0.00005},{"t":45.6,"x":0.00009,"y":0.00006,"z":0.00006},{"t":45.8,"x":-0.00006,"y":-0.00004,"z":-0.00005},{"t":46.0,"x":0.00009,"y":0.00006,"z":0.00006},
      {"t":46.2,"x":-0.00006,"y":-0.00004,"z":-0.00005},{"t":46.4,"x":0.00009,"y":0.00006,"z":0.00006},{"t":46.6,"x":-0.00006,"y":-0.00004,"z":-0.00005},{"t":46.8,"x":0.00009,"y":0.00006,"z":0.00006},{"t":47.0,"x":-0.00006,"y":-0.00004,"z":-0.00005},
      {"t":47.2,"x":0.00009,"y":0.00006,"z":0.00006},{"t":47.4,"x":-0.00006,"y":-0.00004,"z":-0.00005},{"t":47.6,"x":0.00009,"y":0.00006,"z":0.00006},{"t":47.8,"x":-0.00006,"y":-0.00004,"z":-0.00005},{"t":48.0,"x":0.00009,"y":0.00006,"z":0.00006}
    ]
  },
  "config": {
    "view": {"stroke": "#000000", "strokeWidth": 3},
    "font": "Liberation Serif",
    "axis": {
      "domain": false, "grid": false,
      "labelFont": "Liberation Serif", "labelFontSize": 48, "labelColor": "#000000",
      "titleFont": "DejaVu Serif", "titleFontSize": 48, "titleFontWeight": "normal", "titleColor": "#000000",
      "tickColor": "#000000", "tickWidth": 2.5, "labelPadding": 37,
      "labelOverlap": false, "labelFlush": false, "labelBound": false
    },
    "axisX": {"labelPadding": 28},
    "legend": {
      "symbolType": "stroke", "symbolSize": 8100, "labelFont": "DejaVu Serif", "labelFontSize": 46,
      "labelColor": "#000000", "labelOffset": 22, "rowPadding": 0, "clipHeight": 60, "padding": 0, "labelLimit": 0
    }
  },
  "vconcat": [
    {
      "width": 1084,
      "height": 788,
      "layer": [
        {
          "data": {"name": "flux"},
          "transform": [{"fold": ["x", "y", "z"], "as": ["s", "v"]}],
          "mark": {"type": "line", "clip": true, "strokeCap": "round", "strokeJoin": "round"},
          "encoding": {
            "x": {
              "field": "t", "type": "quantitative",
              "scale": {"domain": [0, 14800], "nice": false, "zero": false},
              "axis": {
                "title": "Time/ps", "titlePadding": 20,
                "values": [0,1000,2000,3000,4000,5000,6000,7000,8000,9000,10000,11000,12000,13000,14000],
                "labelExpr": "datum.value % 2000 == 0 ? format(datum.value, 'd') : ''",
                "tickSize": {"condition": {"test": "datum.value % 2000 == 0", "value": -15}, "value": -9}
              }
            },
            "y": {
              "field": "v", "type": "quantitative",
              "scale": {"domain": [-1, 1], "nice": false},
              "axis": {
                "title": "J/(eV·ps⁻¹·Å⁻²)", "titlePadding": 35,
                "values": [-1,-0.9,-0.8,-0.7,-0.6,-0.5,-0.4,-0.3,-0.2,-0.1,0,0.1,0.2,0.3,0.4,0.5,0.6,0.7,0.8,0.9,1],
                "labelExpr": "abs(round(datum.value * 10)) % 2 == 1 ? '' : (datum.value == 0 ? '0' : (datum.value < 0 ? '−\u2009' + format(-datum.value, '.1f') : format(datum.value, '.1f')))",
                "tickSize": {"condition": {"test": "abs(round(datum.value * 10)) % 2 == 0", "value": -15}, "value": -9}
              }
            },
            "color": {
              "field": "s", "type": "nominal",
              "scale": {"domain": ["x", "y", "z"], "range": ["#000000", "#ff0000", "#0000ff"]},
              "legend": {"title": null, "orient": "none", "legendX": 881, "legendY": 566, "labelExpr": "'J' + datum.label", "labelFontStyle": "italic"}
            },
            "strokeDash": {
              "field": "s", "type": "nominal",
              "scale": {"domain": ["x", "y", "z"], "range": [[1, 0], [20, 21], [1.5, 13]]},
              "legend": {"title": null, "orient": "none", "legendX": 881, "legendY": 566, "labelExpr": "'J' + datum.label", "labelFontStyle": "italic"}
            },
            "strokeWidth": {
              "field": "s", "type": "nominal",
              "scale": {"domain": ["x", "y", "z"], "range": [3.5, 3.5, 4.5]},
              "legend": {"title": null, "orient": "none", "legendX": 881, "legendY": 566, "labelExpr": "'J' + datum.label", "labelFontStyle": "italic"}
            }
          }
        },
        {
          "data": {"values": [{"label": "(a)"}]},
          "mark": {"type": "text", "align": "left", "baseline": "middle", "fontSize": 46, "font": "DejaVu Serif", "color": "#000000"},
          "encoding": {
            "x": {"datum": 270, "type": "quantitative"},
            "y": {"datum": 0.885, "type": "quantitative"},
            "text": {"field": "label"}
          }
        }
      ]
    },
    {
      "width": 1084,
      "height": 789,
      "layer": [
        {
          "data": {"name": "acf"},
          "transform": [{"fold": ["x", "y", "z"], "as": ["s", "v"]}],
          "mark": {"type": "line", "clip": true, "strokeWidth": 5, "strokeJoin": "round"},
          "encoding": {
            "x": {
              "field": "t", "type": "quantitative",
              "scale": {"domain": [0, 48], "nice": false, "zero": false},
              "axis": {
                "title": "Time/ps", "titlePadding": 20,
                "values": [0,5,10,15,20,25,30,35,40,45],
                "labelExpr": "datum.value % 10 == 0 ? format(datum.value, 'd') : ''",
                "tickSize": {"condition": {"test": "datum.value % 10 == 0", "value": -15}, "value": -9}
              }
            },
            "y": {
              "field": "v", "type": "quantitative",
              "scale": {"domain": [-0.006, 0.010], "nice": false},
              "axis": {
                "title": "HFACF/(eV²·ps⁻²·Å⁻⁴)", "titlePadding": 50,
                "values": [-0.006,-0.005,-0.004,-0.003,-0.002,-0.001,0,0.001,0.002,0.003,0.004,0.005,0.006,0.007,0.008,0.009,0.010],
                "labelExpr": "abs(round(datum.value * 1000)) % 2 == 1 ? '' : (datum.value == 0 ? '0' : (datum.value < 0 ? '−\u2009' + format(-datum.value, '.3f') : format(datum.value, '.3f')))",
                "tickSize": {"condition": {"test": "abs(round(datum.value * 1000)) % 2 == 0", "value": -15}, "value": -9}
              }
            },
            "color": {
              "field": "s", "type": "nominal",
              "scale": {"domain": ["x", "y", "z"], "range": ["#000000", "#ff0000", "#0000ff"]},
              "legend": {"title": null, "orient": "none", "legendX": 698, "legendY": 573, "labelExpr": "'HFACF ' + datum.label", "symbolStrokeWidth": 2.5}
            }
          }
        },
        {
          "data": {"values": [{"label": "(b)"}]},
          "mark": {"type": "text", "align": "left", "baseline": "middle", "fontSize": 46, "font": "DejaVu Serif", "color": "#000000"},
          "encoding": {
            "x": {"datum": 0.9, "type": "quantitative"},
            "y": {"datum": 0.00905, "type": "quantitative"},
            "text": {"field": "label"}
          }
        }
      ]
    }
  ],
  "resolve": {"scale": {"color": "independent", "strokeDash": "independent", "strokeWidth": "independent"}, "legend": {"color": "independent"}}
}
